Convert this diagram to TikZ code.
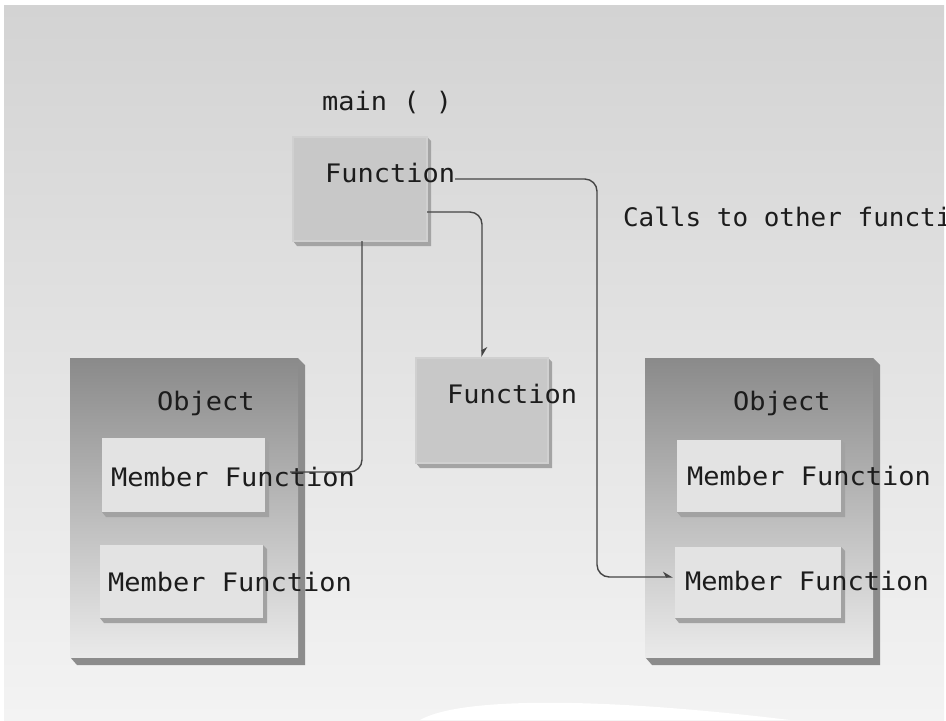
\documentclass[tikz,border=0pt]{standalone}
\usepackage{fontspec}
\usepackage{graphicx}
\usetikzlibrary{arrows.meta,calc}
\newfontfamily\monof{DejaVu Sans Mono}
\newcommand{\mtxt}[1]{{\monof\fontsize{14.5}{17}\selectfont\scalebox{1.06}[1]{#1}}}
\newcommand{\mtxtn}[1]{{\monof\fontsize{14.5}{17}\selectfont\scalebox{1.02}[1]{#1}}}
\definecolor{bgtop}{HTML}{D3D3D3}
\definecolor{bgbot}{HTML}{F3F3F3}
\definecolor{fnface}{HTML}{C8C8C8}
\definecolor{fnedge}{HTML}{D0D0D0}
\definecolor{fnshadow}{HTML}{A4A4A4}
\definecolor{objtop}{HTML}{8A8A8A}
\definecolor{objbot}{HTML}{EAEAEA}
\definecolor{objshadow}{HTML}{8C8C8C}
\definecolor{mfface}{HTML}{E3E3E3}
\definecolor{mfshadow}{HTML}{A2A2A2}
\definecolor{linecol}{HTML}{454545}
\definecolor{txtcol}{HTML}{1C1C1C}
\newcommand{\shbox}[8]{% name x1 y1 x2 y2 depth shadowcolour style
  \fill[#7] (#4,#3) -- ({#4+#6},{#3+#6}) -- ({#4+#6},{#5+#6+1}) -- ({#2+#6},{#5+#6+1}) -- (#2,#5) -- cycle;
  \node[#8, anchor=north west, inner sep=0pt, outer sep=0pt,
        minimum width={(#4-#2)*0.02cm}, minimum height={(#5-#3)*0.02cm}] (#1) at (#2,#3) {};
}
\begin{document}
\begin{tikzpicture}[x=0.02cm, y=-0.02cm,
  fnbox/.style={fill=fnface, draw=fnedge, line width=0.6pt},
  objbox/.style={top color=objtop, bottom color=objbot, draw=none},
  mfbox/.style={fill=mfface, draw=none},
  lbl/.style={anchor=base west, inner sep=0pt, outer sep=0pt, text=txtcol},
  conn/.style={draw=linecol, line width=0.8pt, rounded corners=7pt},
  tip/.style={-{Stealth[left, length=5pt, width=6pt]}}]
\useasboundingbox (0,0) rectangle (946,720);
\fill[white] (0,0) rectangle (946,720);
\shade[top color=bgtop, bottom color=bgbot] (4,5) rectangle (944,720);
\fill[white] (420,720) .. controls (460,697) and (600,697) .. (790,720) -- cycle;

% function boxes
\shbox{mainbox}{293}{137}{427}{241}{4}{fnshadow}{fnbox}
\shbox{midbox}{416}{358}{548}{463}{4}{fnshadow}{fnbox}

% object boxes
\shbox{lobj}{70}{358}{298}{657}{7}{objshadow}{objbox}
\shbox{robj}{645}{358}{873}{657}{7}{objshadow}{objbox}

% member function boxes
\shbox{lmf1}{102}{438}{265}{512}{4}{mfshadow}{mfbox}
\shbox{lmf2}{100}{545}{263}{618}{4}{mfshadow}{mfbox}
\shbox{rmf1}{677}{440}{841}{512}{4}{mfshadow}{mfbox}
\shbox{rmf2}{675}{547}{841}{618}{4}{mfshadow}{mfbox}

% texts
\node[lbl] (maintitle) at (322,110) {\mtxt{main ( )}};
\node[lbl] (mainfn) at (325,182) {\mtxt{Function}};
\node[lbl] (midfn) at (447,403) {\mtxt{Function}};
\node[lbl] (calls) at (623,226) {\mtxtn{Calls to other functions}};
\node[lbl] (lobjt) at (157,410) {\mtxt{Object}};
\node[lbl] (robjt) at (733,410) {\mtxt{Object}};
\node[lbl] (lmf1t) at (111,486) {\mtxt{Member Function}};
\node[lbl] (lmf2t) at (108,591) {\mtxt{Member Function}};
\node[lbl] (rmf1t) at (687,485) {\mtxt{Member Function}};
\node[lbl] (rmf2t) at (685,590) {\mtxt{Member Function}};

% connectors
\coordinate (c3end) at (290,472);
\draw[conn, tip] ($(mainfn.base east)+(0,-3)$) -| ($(rmf2t.base west)+(-88,-13)$) -- ($(rmf2t.base west)+(-12,-13)$);
\draw[conn, tip] ($(mainbox.north east)+(0,75)$) -| ($(midbox.north)+(0,-1)$);
\draw[conn] ($(mainbox.south)+(2,0)$) |- (c3end);
\end{tikzpicture}
\end{document}
